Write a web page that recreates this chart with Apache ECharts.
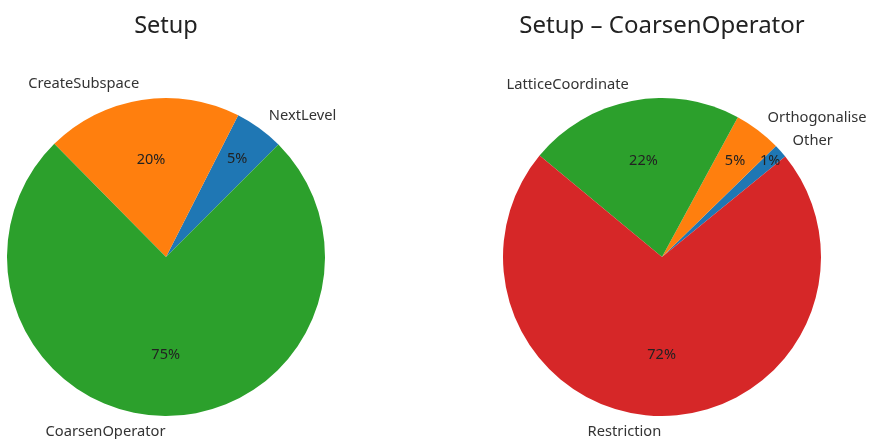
<!DOCTYPE html>
<html>
<head>
<meta charset="utf-8">
<script src="https://cdn.jsdelivr.net/npm/echarts@6/dist/echarts.min.js"></script>
<style>
  html, body { margin: 0; padding: 0; background: #fff; }
  #pies { width: 870px; height: 439px; }
</style>
</head>
<body>
<div id="pies"></div>
<script>
// Setup (left)
var setupNames = ['NextLevel', 'CreateSubspace', 'CoarsenOperator'];
var setupValues = [5.0, 19.9, 75.1];
var setupColors = ['#1f77b4', '#ff7f0e', '#2ca02c'];
var setupPctDist = [118, 95, 95]; // 百分比标签离圆心距离

// Setup – CoarsenOperator (right)
var coarsenNames = ['Other', 'Orthogonalise', 'LatticeCoordinate', 'Restriction'];
var coarsenValues = [1.4, 4.8, 21.9, 71.9];
var coarsenColors = ['#1f77b4', '#ff7f0e', '#2ca02c', '#d62728'];
var coarsenPctDist = [142, 118, 95, 95];

var font = 'Noto Sans';
var R = 159;

function toData(names, values, colors) {
  var out = [];
  for (var i = 0; i < names.length; i++) {
    out.push({ name: names[i], value: values[i], itemStyle: { color: colors[i] } });
  }
  return out;
}

// 外圈名称 + 内圈百分比（透明叠加层，每个距离一层）
function pieSeries(center, startAngle, names, values, colors, pctDist) {
  var base = {
    type: 'pie',
    center: center,
    clockwise: false,
    startAngle: startAngle,
    avoidLabelOverlap: false,
    animation: false,
    silent: true,
    emphasis: { disabled: true }
  };
  var list = [];
  list.push(Object.assign({}, base, {
    radius: [0, R],
    itemStyle: { borderWidth: 0 },
    label: {
      show: true,
      position: 'outside',
      formatter: '{b}',
      fontFamily: font,
      fontSize: 14.7,
      color: '#333',
      distanceToLabelLine: 0
    },
    labelLine: { show: false, length: 16, length2: 0 },
    data: toData(names, values, colors)
  }));
  var dists = [];
  pctDist.forEach(function (d) { if (dists.indexOf(d) < 0) dists.push(d); });
  dists.forEach(function (d) {
    list.push(Object.assign({}, base, {
      radius: [2 * d - R, R],
      percentPrecision: 0,
      itemStyle: { color: 'transparent', borderWidth: 0 },
      label: {
        show: true,
        position: 'inside',
        formatter: '{d}%',
        fontFamily: font,
        fontSize: 14.5,
        color: '#222'
      },
      labelLine: { show: false },
      data: names.map(function (n, i) {
        return { name: n, value: values[i], label: { show: pctDist[i] === d } };
      })
    }));
  });
  return list;
}

var chart = echarts.init(document.getElementById('pies'));
var option = {
  backgroundColor: '#fff',
  title: [
    {
      text: 'Setup', left: 161, top: 9, textAlign: 'center',
      textStyle: { fontFamily: font, fontSize: 23.5, fontWeight: 'normal', color: '#222' }
    },
    {
      text: 'Setup – CoarsenOperator', left: 657, top: 9, textAlign: 'center',
      textStyle: { fontFamily: font, fontSize: 24, fontWeight: 'normal', color: '#222' }
    }
  ],
  series: [].concat(
    pieSeries([166, 257], 45, setupNames, setupValues, setupColors, setupPctDist),
    pieSeries([662, 257], 39.2, coarsenNames, coarsenValues, coarsenColors, coarsenPctDist)
  )
};
chart.setOption(option);
</script>
</body>
</html>
